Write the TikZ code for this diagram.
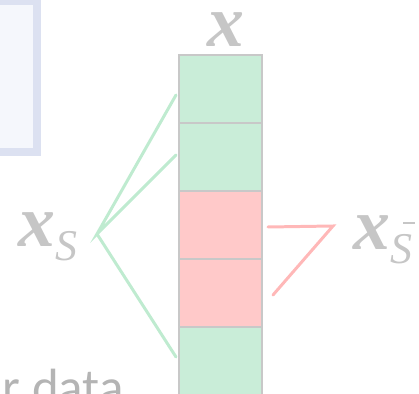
\documentclass[tikz,border=0pt]{standalone}
\usepackage{amsmath,amssymb}
\usepackage{fontspec}
\newfontfamily\capfont{Carlito}
\newfontfamily\varfont{Liberation Serif}
\usetikzlibrary{positioning,calc}

\definecolor{keepgreen}{HTML}{C9EDD8}
\definecolor{dropred}{HTML}{FFC9C9}
\definecolor{cellgray}{HTML}{C8C8C8}
\definecolor{boxblue}{HTML}{DCE1F1}
\definecolor{boxfill}{HTML}{F5F7FC}
\definecolor{keepline}{HTML}{BFEBD0}
\definecolor{dropline}{HTML}{FFB8B8}
\definecolor{labelgray}{HTML}{C6C6C6}
\definecolor{capgray}{HTML}{B4B4B4}

% bold italic x with a lowered italic index
\newcommand{\vecx}[1]{{\bfseries\itshape x}\raisebox{-7.5pt}{\fontsize{25}{25}\selectfont\mdseries\itshape #1}}
\newcommand{\barS}{\makebox[0pt][l]{\hspace{0.3em}\raisebox{0.9em}{\rule{0.26em}{1.2pt}}}S}

\tikzset{
 cell/.style={draw=cellgray,line width=1.4pt,minimum width=1.66cm,minimum height=1.36cm,inner sep=0pt,outer sep=0pt},
 varlabel/.style={text=labelgray,inner sep=0pt,font=\varfont\fontsize{42}{42}\selectfont},
 link/.style={line width=1.7pt,line cap=round}
}

\begin{document}
\begin{tikzpicture}[x=0.02cm,y=-0.02cm]
 \useasboundingbox (0,0) rectangle (419,394);
 \clip (0,0) rectangle (419,394);
 % frame of the panel on the left
 \draw[line width=4pt,draw=boxblue,fill=boxfill] (-30,1.5) rectangle (37,152);
 \node[anchor=base east,text=capgray,font=\capfont\fontsize{29}{29}\selectfont,inner sep=0pt] (cap) at (124,405) {r data};
 % the column
 \foreach \i/\col in {1/keepgreen,2/keepgreen,3/dropred,4/dropred,5/keepgreen}
  \node[cell,fill=\col] (c\i) at (220.5,{21+68*\i}) {};
 \node[varlabel,above=0.16cm of c1,xshift=0.1cm] (xall) {\bfseries\itshape x};
 \node[varlabel,anchor=base west] (xs) at (18,247) {\vecx{S}};
 \node[varlabel,anchor=base west] (xsbar) at (353,250) {\vecx{\barS}};
 \coordinate (keep) at (97,234);
 \coordinate (drop) at (333,226);
 \draw[link,keepline] ($(c1.west)+(-3,6)$) -- (keep) -- ($(c2.west)+(-3,-2)$);
 \draw[link,keepline] (keep) -- ($(c5.west)+(-3,-4)$);
 \draw[link,dropline] ($(c3.east)+(6,2)$) -- (drop) -- ($(c4.east)+(11,2)$);
\end{tikzpicture}
\end{document}
